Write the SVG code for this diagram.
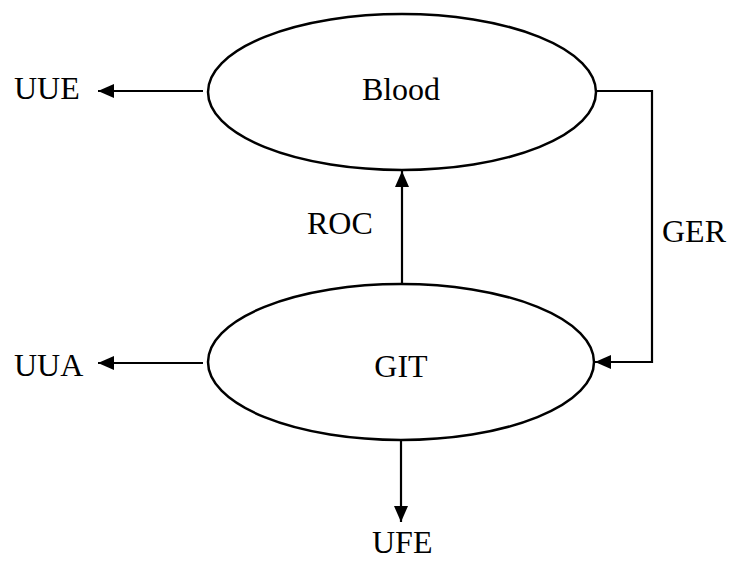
<svg xmlns="http://www.w3.org/2000/svg" width="731" height="565" viewBox="0 0 731 565">
  <style>
    .node { fill: #ffffff; stroke: #000000; stroke-width: 2.5; }
    .edge { fill: none; stroke: #000000; stroke-width: 2.2; }
    text { font-family: "Liberation Serif", "Times New Roman", serif; font-size: 32px; fill: #000000; }
  </style>
  <defs>
    <marker id="arrow" viewBox="0 0 16 14" refX="16" refY="7" markerWidth="16" markerHeight="15" markerUnits="userSpaceOnUse" orient="auto">
      <path d="M0,0 L16,7 L0,14 Z" fill="#000000"/>
    </marker>
  </defs>

  <g id="connectors">
    <path class="edge" d="M203,91 L98,91" marker-end="url(#arrow)"/>
    <path class="edge" d="M402,283 L402,171" marker-end="url(#arrow)"/>
    <path class="edge" d="M597,91 L652,91 L652,362 L595,362" marker-end="url(#arrow)"/>
    <path class="edge" d="M203,363 L98,363" marker-end="url(#arrow)"/>
    <path class="edge" d="M401,441 L401,522" marker-end="url(#arrow)"/>
  </g>

  <g id="blood">
    <ellipse class="node" cx="402" cy="92" rx="194" ry="78"/>
    <text x="401" y="100" text-anchor="middle">Blood</text>
  </g>

  <g id="git">
    <ellipse class="node" cx="401" cy="362" rx="193" ry="78"/>
    <text x="401" y="377" text-anchor="middle">GIT</text>
  </g>

  <g id="uue"><text x="14" y="99">UUE</text></g>
  <g id="uua"><text x="14" y="376">UUA</text></g>
  <g id="ufe"><text x="372" y="553">UFE</text></g>
  <g id="roc-label"><text x="307" y="234">ROC</text></g>
  <g id="ger-label"><text x="662" y="242">GER</text></g>
</svg>
